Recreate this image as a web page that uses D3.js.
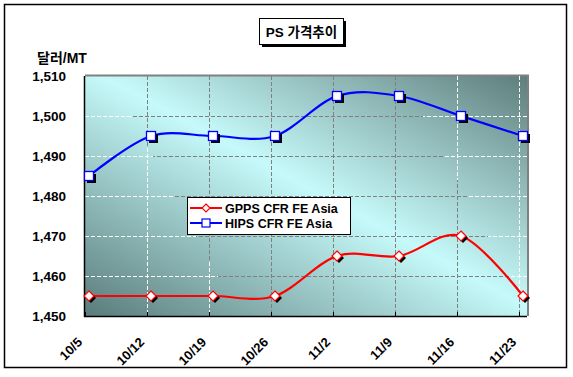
<!DOCTYPE html>
<html>
<head>
<meta charset="utf-8">
<script src="https://cdn.jsdelivr.net/npm/d3@7"></script>
<style>
html,body{margin:0;padding:0;background:#fff;}
svg{display:block;}
text{font-family:"Liberation Sans",Arial,"Noto Sans CJK KR",sans-serif;font-weight:bold;fill:#000;}
</style>
</head>
<body>
<svg id="chart" width="573" height="377"></svg>
<script>
const title = "PS 가격추이";
const yLabel = "달러/MT";
const categories = ["10/5","10/12","10/19","10/26","11/2","11/9","11/16","11/23"];
const gpps = [1455,1455,1455,1455,1465,1465,1470,1455];
const hips = [1485,1495,1495,1495,1505,1505,1500,1495];
const seriesNames = ["GPPS CFR FE Asia","HIPS CFR FE Asia"];
const yTicks = [1450,1460,1470,1480,1490,1500,1510];

const svg = d3.select("#chart");
const L = 85, R = 527, T = 76, B = 316;

const defs = svg.append("defs");
const bg = defs.append("linearGradient").attr("id","bg")
  .attr("x1",0).attr("y1",1).attr("x2",1).attr("y2",0);
bg.append("stop").attr("offset",0).attr("stop-color","#5a7c7b");
bg.append("stop").attr("offset",0.52).attr("stop-color","#c6fafa");
bg.append("stop").attr("offset",1).attr("stop-color","#5e7e7c");

const gg = defs.append("linearGradient").attr("id","gridg")
  .attr("gradientUnits","userSpaceOnUse")
  .attr("x1",L).attr("y1",B).attr("x2",R).attr("y2",T);
[[0,"#ffffff"],[0.27,"#ffffff"],[0.27,"#808080"],[0.78,"#808080"],[0.78,"#ffffff"],[1,"#ffffff"]]
  .forEach(s=>gg.append("stop").attr("offset",s[0]).attr("stop-color",s[1]));

// outer border
svg.append("rect").attr("x",4.5).attr("y",4.5).attr("width",562).attr("height",363)
  .attr("fill","#fff").attr("stroke","#000").attr("stroke-width",1.5);

const x = d3.scalePoint().domain(categories).range([L, 519]);
const y = d3.scaleLinear().domain([1450,1510]).range([B, T]);
const off = 4;

// plot area
svg.append("rect").attr("x",L).attr("y",T).attr("width",R-L).attr("height",B-T).attr("fill","url(#bg)");
svg.append("path").attr("d",`M${L},${T-0.5}H${R+1}V${B}`).attr("fill","none").attr("stroke","#808080").attr("stroke-width",2);

// grid
const grid = svg.append("g");
grid.selectAll("line.h").data(yTicks.filter(d=>d>1450 && d<1510)).join("line")
  .attr("x1",L).attr("x2",R).attr("y1",d=>y(d)+0.5).attr("y2",d=>y(d)+0.5)
  .attr("stroke","url(#gridg)").attr("stroke-width",1).attr("stroke-dasharray","4,2");
grid.selectAll("line.v").data(categories.slice(1)).join("line")
  .attr("x1",d=>x(d)+0.5).attr("x2",d=>x(d)+0.5).attr("y1",T).attr("y2",B)
  .attr("stroke","url(#gridg)").attr("stroke-width",1).attr("stroke-dasharray","4,2");

// axes
svg.append("line").attr("x1",L-0.5).attr("x2",L-0.5).attr("y1",T).attr("y2",B+1).attr("stroke","#000").attr("stroke-width",1.5);
svg.append("line").attr("x1",L-1).attr("x2",R).attr("y1",B+0.5).attr("y2",B+0.5).attr("stroke","#000").attr("stroke-width",1.5);
svg.append("g").selectAll("line").data(categories).join("line")
  .attr("x1",d=>x(d)+0.5).attr("x2",d=>x(d)+0.5).attr("y1",B-4).attr("y2",B).attr("stroke","#000");

// y tick labels
svg.append("g").selectAll("text").data(yTicks).join("text")
  .attr("x",66).attr("y",d=>y(d)).attr("dy","0.36em").attr("text-anchor","end")
  .style("font-size","13.5px").text(d=>d3.format(",")(d));

// x labels
svg.append("g").selectAll("text").data(categories).join("text")
  .attr("transform",d=>`translate(${x(d)-2},343) rotate(-45)`)
  .attr("text-anchor","end").style("font-size","13px").text(d=>d);

// y label
svg.append("text").attr("x",37).attr("y",63).style("font-size","14px").text(yLabel);

// title box
svg.append("rect").attr("x",262).attr("y",21).attr("width",84).attr("height",26).attr("fill","#000");
svg.append("rect").attr("x",259.5).attr("y",18.5).attr("width",84).attr("height",26).attr("fill","#fff").attr("stroke","#000").attr("stroke-width",1);
svg.append("text").attr("x",301.5).attr("y",36.5).attr("text-anchor","middle").style("font-size","13.5px").text(title);

// lines
const line = d3.line().x((d,i)=>x(categories[i])+off).y(d=>y(d)).curve(d3.curveCardinal.tension(0));
svg.append("path").datum(gpps).attr("d",line).attr("fill","none").attr("stroke","#ff0000").attr("stroke-width",2.2);
svg.append("path").datum(hips).attr("d",line).attr("fill","none").attr("stroke","#0000ff").attr("stroke-width",2.2);

function diamond(g, cx, cy){
  g.append("path").attr("d",`M${cx+2},${cy-3}L${cx+7},${cy+2}L${cx+2},${cy+7}L${cx-3},${cy+2}Z`).attr("fill","#000");
  g.append("path").attr("d",`M${cx},${cy-5}L${cx+5},${cy}L${cx},${cy+5}L${cx-5},${cy}Z`).attr("fill","#fff").attr("stroke","#ff0000").attr("stroke-width",1.2);
}
function square(g, cx, cy){
  g.append("rect").attr("x",cx-2).attr("y",cy-2).attr("width",9).attr("height",9).attr("fill","#000");
  g.append("rect").attr("x",cx-4.5).attr("y",cy-4.5).attr("width",9).attr("height",9).attr("fill","#fff").attr("stroke","#0000ff").attr("stroke-width",1.3);
}
const mk = svg.append("g");
gpps.forEach((v,i)=>diamond(mk, x(categories[i])+off, y(v)));
hips.forEach((v,i)=>square(mk, x(categories[i])+off, y(v)));

// legend
const lg = svg.append("g");
lg.append("rect").attr("x",187.5).attr("y",197.5).attr("width",163).attr("height",37).attr("fill","#fff").attr("stroke","#000").attr("stroke-width",1);
const rows = [{name:seriesNames[0],c:"#ff0000",m:"d"},{name:seriesNames[1],c:"#0000ff",m:"s"}];
rows.forEach((r,i)=>{
  const cy = 208 + i*15;
  lg.append("line").attr("x1",190).attr("x2",222).attr("y1",cy).attr("y2",cy).attr("stroke",r.c).attr("stroke-width",2);
  if(r.m==="d"){
    lg.append("path").attr("d",`M206,${cy-4}L210,${cy}L206,${cy+4}L202,${cy}Z`).attr("fill","#fff").attr("stroke",r.c).attr("stroke-width",1.2);
  } else {
    lg.append("rect").attr("x",202).attr("y",cy-4).attr("width",8).attr("height",8).attr("fill","#fff").attr("stroke",r.c).attr("stroke-width",1.2);
  }
  lg.append("text").attr("x",225).attr("y",cy).attr("dy","0.36em").style("font-size","12.5px").text(r.name);
});
</script>
</body>
</html>
